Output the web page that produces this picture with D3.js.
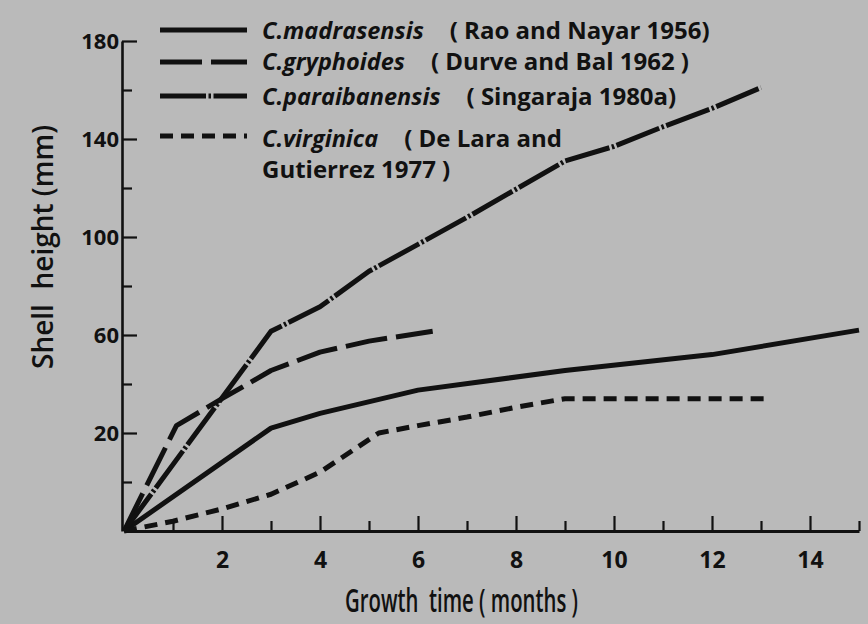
<!DOCTYPE html>
<html>
<head>
<meta charset="utf-8">
<script src="https://cdn.jsdelivr.net/npm/d3@7"></script>
<style>
  html, body { margin: 0; padding: 0; background: #bdbdbd; }
  svg { display: block; }
  text { font-family: "Open Sans", Lato, sans-serif; fill: #111; }
</style>
</head>
<body>
<svg id="chart" width="868" height="624"></svg>
<script>
// growth time (months) and shell height (mm).
// the drawn origin sits one tick below the "20" label, i.e. at -20 on the printed scale.
const madrasensisMonths = [0, 3, 4, 6, 9, 12, 15];
const madrasensisHeight = [-20, 22, 28, 37.5, 45.5, 52, 62];

const gryphoidesMonths = [0, 1.07, 2, 3, 4, 5, 6.3];
const gryphoidesHeight = [-20, 23, 34, 45.5, 53, 57.5, 61.5];

const paraibanensisMonths = [0, 3, 4, 5, 6, 7, 8, 9, 10, 11, 12, 13];
const paraibanensisHeight = [-20, 61.5, 71.5, 86, 97, 108, 119.5, 131, 137, 145, 152.5, 161];

const virginicaMonths = [0, 1, 2, 3, 4, 5.2, 6, 7, 8, 9, 13.1];
const virginicaHeight = [-20, -16, -11, -5, 4, 20, 23, 26.5, 30.5, 34, 34];

const speciesNames = ["C.madrasensis", "C.gryphoides", "C.paraibanensis", "C.virginica"];
const speciesSources = [["( Rao and Nayar 1956)"], ["( Durve and Bal 1962 )"], ["( Singaraja 1980a)"], ["( De Lara and", "Gutierrez 1977 )"]];

const xTicks = d3.range(1, 16);
const xTickLabels = ["", "2", "", "4", "", "6", "", "8", "", "10", "", "12", "", "14", ""];
const yTicks = d3.range(0, 181, 20);
const yTickLabels = ["", "20", "", "60", "", "100", "", "140", "", "180"];

const xTitle = "Growth  time ( months )";
const yTitle = "Shell  height (mm)";

const ink = "#111";
const dashStyles = ["none", "42,9", "46,2.5,2.5,2.5", "13,8"];

const svg = d3.select("#chart");
const width = 868;
const height = 624;

const x = d3.scaleLinear().domain([0, 15]).range([124, 859]);
const y = d3.scaleLinear().domain([-20, 180]).range([531, 41]);

svg.append("rect").attr("width", width).attr("height", height).attr("fill", "#bababa");

// x axis, ticks pointing up into the plot, long on even months
const xAxis = d3.axisBottom(x)
  .tickValues(xTicks)
  .tickSizeInner(-10)
  .tickSizeOuter(0)
  .tickPadding(21)
  .tickFormat((d, i) => xTickLabels[i]);

const gx = svg.append("g")
  .attr("transform", `translate(0,${y(-20)})`)
  .call(xAxis);
gx.select(".domain").attr("stroke", ink).attr("stroke-width", 3.2);
gx.selectAll(".tick line")
  .attr("stroke", ink)
  .attr("stroke-width", 2.2)
  .attr("y2", d => d % 2 === 0 ? -15 : -10);
gx.selectAll(".tick text")
  .attr("font-size", 23)
  .attr("font-weight", 700)
  .attr("fill", ink);

// y axis, ticks pointing right
const yAxis = d3.axisLeft(y)
  .tickValues(yTicks)
  .tickSizeInner(-10)
  .tickSizeOuter(0)
  .tickPadding(3)
  .tickFormat((d, i) => yTickLabels[i]);

const gy = svg.append("g")
  .attr("transform", `translate(${x(0) - 2},0)`)
  .call(yAxis);
gy.select(".domain").attr("stroke", ink).attr("stroke-width", 2.6);
gy.selectAll(".tick line")
  .attr("stroke", ink)
  .attr("stroke-width", 2.2)
  .attr("x2", (d, i) => yTickLabels[i] ? 15 : 10);
gy.selectAll(".tick text")
  .attr("font-size", 22)
  .attr("font-weight", 700)
  .attr("fill", ink);

// axis titles (the printed lettering is narrow, so squeeze it to the original width)
svg.append("text")
  .attr("x", 345)
  .attr("y", 612)
  .attr("font-size", 32)
  .attr("font-weight", 600)
  .attr("textLength", 233)
  .attr("lengthAdjust", "spacingAndGlyphs")
  .style("white-space", "pre")
  .text(xTitle);

svg.append("text")
  .attr("transform", "translate(53,247) rotate(-90)")
  .attr("text-anchor", "middle")
  .attr("font-size", 28)
  .attr("font-weight", 600)
  .style("white-space", "pre")
  .text(yTitle);

// growth curves
const series = [
  {months: madrasensisMonths, height: madrasensisHeight},
  {months: gryphoidesMonths, height: gryphoidesHeight},
  {months: paraibanensisMonths, height: paraibanensisHeight},
  {months: virginicaMonths, height: virginicaHeight},
];

const line = d3.line()
  .x(d => x(d[0]))
  .y(d => y(d[1]));

svg.append("g")
  .selectAll("path")
  .data(series)
  .join("path")
  .attr("d", s => line(d3.zip(s.months, s.height)))
  .attr("fill", "none")
  .attr("stroke", ink)
  .attr("stroke-width", 5)
  .attr("stroke-linejoin", "round")
  .attr("stroke-dasharray", (s, i) => dashStyles[i]);

// legend
const legendLineY = [30, 62, 96, 136];
const legendTextY = [39, 70, 105, 147];
const legend = svg.append("g");

speciesNames.forEach((name, i) => {
  legend.append("line")
    .attr("x1", 160).attr("x2", 247)
    .attr("y1", legendLineY[i]).attr("y2", legendLineY[i])
    .attr("stroke", ink)
    .attr("stroke-width", 5)
    .attr("stroke-dasharray", dashStyles[i] === "none" ? null : dashStyles[i]);

  const species = legend.append("text")
    .attr("x", 262)
    .attr("y", legendTextY[i])
    .attr("font-size", 23.5)
    .attr("font-weight", 700)
    .attr("font-style", "italic")
    .text(name);

  const sourceX = 262 + species.node().getComputedTextLength() + 26;
  speciesSources[i].forEach((src, j) => {
    legend.append("text")
      .attr("x", j === 0 ? sourceX : 262)
      .attr("y", legendTextY[i] + j * 31)
      .attr("font-size", 24)
      .attr("font-weight", 700)
      .style("white-space", "pre")
      .text(src);
  });
});
</script>
</body>
</html>
